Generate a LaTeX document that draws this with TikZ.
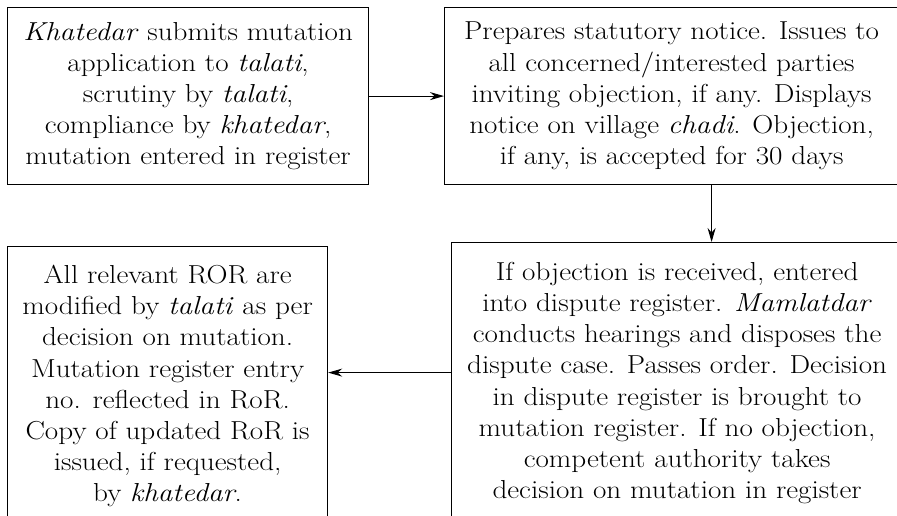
\documentclass[tikz,border=0pt]{standalone}
\usepackage{fontspec}
\setmainfont{Latin Modern Roman}[FakeStretch=1.12]
\usepackage{tikz}
\usetikzlibrary{arrows.meta}

\tikzset{
  stepbox/.style={draw, line width=1.2pt, align=center, inner sep=0pt,
    font=\fontsize{26}{31.2}\selectfont},
  arr/.style={-{Stealth[length=14pt,width=8pt]}, line width=1.1pt}
}

\begin{document}
\begin{tikzpicture}[x=1pt,y=-1pt]
\useasboundingbox (0,0) rectangle (897,516);
\clip (0,0) rectangle (897,516);
% boxes
\node [stepbox, anchor=north west, minimum width=361pt, minimum height=177pt] (submit) at (7,7)
  {\textit{Khatedar} submits mutation\\ application to \textit{talati},\\ scrutiny by \textit{talati},\\
   compliance by \textit{khatedar},\\ mutation entered in register};
\node [stepbox, anchor=north west, minimum width=454pt, minimum height=177pt] (notice) at (444,7)
  {Prepares statutory notice. Issues to\\ all concerned/interested parties\\ inviting objection, if any. Displays\\
   notice on village \textit{chadi}. Objection,\\ if any, is accepted for 30 days};
\node [stepbox, anchor=north west, minimum width=451pt, minimum height=281pt] (dispute) at (451,242)
  {If objection is received, entered\\ into dispute register. \textit{Mamlatdar}\\ conducts hearings and disposes the\\
   dispute case. Passes order. Decision\\ in dispute register is brought to\\ mutation register. If no objection,\\
   competent authority takes\\ decision on mutation in register};
\node [stepbox, anchor=north west, minimum width=320pt, minimum height=279pt] (ror) at (7,246)
  {All relevant ROR are\\ modified by \textit{talati} as per\\ decision on mutation.\\ Mutation register entry\\
   no. reflected in RoR.\\ Copy of updated RoR is\\ issued, if requested,\\ by \textit{khatedar}.};
% arrows
\draw [arr] (submit) -- (notice);
\draw [arr] ([xshift=40pt]notice.south) -- ([xshift=40pt]notice.south |- dispute.north);
\draw [arr] ([yshift=10.5pt]dispute.west) -- ([yshift=10.5pt]dispute.west -| ror.east);
\end{tikzpicture}
\end{document}
